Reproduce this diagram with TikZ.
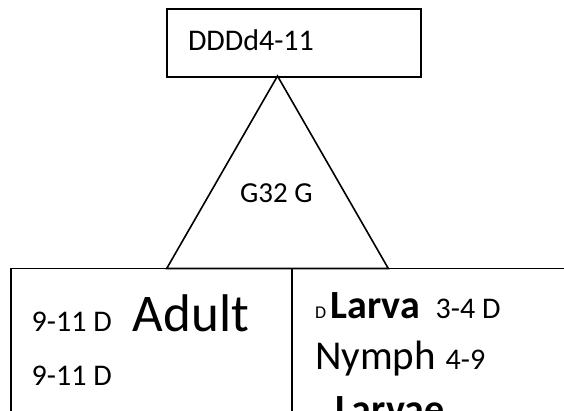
\documentclass[tikz,border=0pt]{standalone}
\usepackage{fontspec}
\setmainfont{Carlito}
\begin{document}
\begin{tikzpicture}[x=1pt,y=1pt,line width=1.6pt,
  txt/.style={anchor=base west,inner sep=0pt,outer sep=0pt},
  fa/.style={font=\fontsize{30}{36}\selectfont},
  boxline/.style={draw=black,line width=1.6pt}]
\useasboundingbox (0,0) rectangle (564,411);
\clip (0,0) rectangle (564,411);
% top box
\node[boxline,inner sep=0pt,minimum width=254pt,minimum height=67.5pt,anchor=north west] (topbox) at (166,402.5) {};
\node[txt,fa] (toptext) at (188,360.3) {DDDd4-11};
% triangle
\coordinate (apex) at (277.5,335);
\coordinate (bl) at (166.7,142.5);
\coordinate (br) at (388.3,142.5);
\draw[boxline,line join=miter] (apex) -- (bl) -- (br) -- cycle;
\node[txt,font=\fontsize{29}{35}\selectfont] (gtext) at (240,208.7) {G32 G};
% bottom left box
\coordinate (lb1) at (11,-10);
\coordinate (lb2) at (11,142.5);
\coordinate (lb3) at (291.7,142.5);
\coordinate (lb4) at (291.7,-10);
\draw[boxline] (lb1) -- (lb2) -- (lb3) -- (lb4);
% bottom right box
\coordinate (rb1) at (600,142.5);
\draw[boxline] (lb3) -- (rb1);
% left texts
\node[txt,fa] (l1a) at (31.7,79.3) {9-11 D};
\node[txt,font=\fontsize{53}{60}\selectfont] (l1b) at (132.7,79.3) {Adult};
\node[txt,fa] (l2) at (31.7,25) {9-11 D};
% right texts
\node[txt,font=\fontsize{18}{22}\selectfont] (r1a) at (315,92.7) {D};
\node[txt,font=\fontsize{40}{48}\selectfont\bfseries] (r1b) at (330.7,92.7) {Larva};
\node[txt,fa] (r1c) at (435.7,92.7) {3-4 D};
\node[txt,font=\fontsize{41}{48}\selectfont] (r2a) at (315,41) {Nymph};
\node[txt,fa] (r2b) at (445.7,41) {4-9};
\node[txt,font=\fontsize{40}{48}\selectfont\bfseries] (r3) at (335,-11.7) {Larvae};
\end{tikzpicture}
\end{document}
